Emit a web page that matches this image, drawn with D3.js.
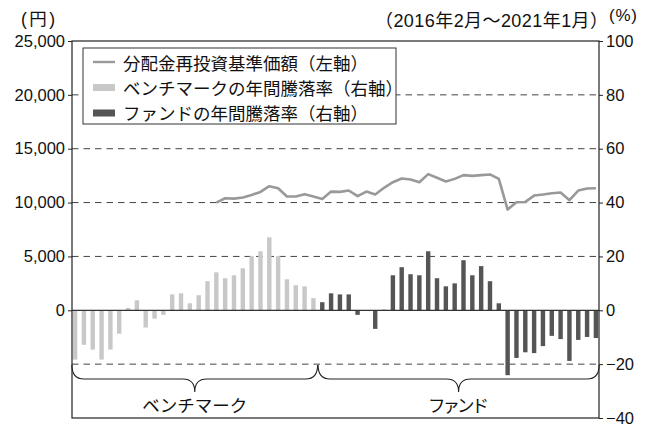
<!DOCTYPE html>
<html><head><meta charset="utf-8">
<script src="https://cdn.jsdelivr.net/npm/d3@7"></script>
<style>
html,body{margin:0;padding:0;background:#fff;}
svg text{font-family:"Liberation Sans","Noto Sans CJK JP",sans-serif;fill:#111;}
</style></head>
<body>
<svg id="chart" width="651" height="427"></svg>
<script>
// ---- data ----
const startYear = 2016, startMonth = 2, monthCount = 60;
const months = [];
for (let i = 0; i < monthCount; i++) {
  const m = startMonth - 1 + i;
  months.push((startYear + Math.floor(m / 12)) + "-" + String(m % 12 + 1).padStart(2, "0"));
}
// benchmark annual return (%), 2016-02 .. 2018-05
const benchmarkReturns = [-18.3, -12.8, -14.6, -18.3, -14.6, -8.7, 0.9, 3.7, -6.4, -3.1, -1.7, 5.9,
  6.3, 2.6, 5.6, 10.8, 14.1, 11.9, 13.0, 15.6, 20.1, 21.9, 27.1, 20.1, 11.5, 9.3, 8.9, 4.5];
// fund annual return (%), 2018-06 .. 2021-01
const fundReturns = [3.0, 6.3, 5.9, 5.9, -1.7, 0, -6.9, 0.2, 13.0, 16.0, 13.4, 13.0,
  21.9, 11.9, 8.9, 10.0, 18.6, 13.0, 16.4, 10.8, 2.6, -24.1, -17.7, -15.6,
  -15.9, -13.3, -9.5, -10.7, -18.8, -11.0, -9.9, -10.3];
// NAV with dividends reinvested (yen), 2017-06 .. 2021-01
const navValues = [10000, 10400, 10370, 10470, 10710, 10990, 11520, 11330, 10560, 10560, 10780, 10560,
  10340, 11020, 10990, 11120, 10590, 11020, 10750, 11370, 11890, 12240, 12140, 11890,
  12640, 12300, 11960, 12200, 12550, 12480, 12550, 12610, 12200, 9350, 10030, 10060,
  10650, 10750, 10870, 10930, 10220, 11120, 11300, 11330];
const leftTicks = [0, 5000, 10000, 15000, 20000, 25000];
const rightTicks = [-40, -20, 0, 20, 40, 60, 80, 100];
const legendLabels = ["分配金再投資基準価額（左軸）", "ベンチマークの年間騰落率（右軸）", "ファンドの年間騰落率（右軸）"];
const groupLabels = ["ベンチマーク", "ファンド"];
const titleText = "（2016年2月～2021年1月）";

// ---- layout ----
const L = 72, R = 599, T = 41, B = 418;
const svg = d3.select("#chart");
const x = d3.scaleBand().domain(months).range([L, R]).paddingInner(0.5).paddingOuter(0.1);
const yL = d3.scaleLinear().domain([-10000, 25000]).range([B, T]);
const yR = d3.scaleLinear().domain([-40, 100]).range([B, T]);

const bmStart = 0, fundStart = benchmarkReturns.length, navStart = monthCount - navValues.length;
const bars = benchmarkReturns.map((v, i) => ({m: months[bmStart + i], v, c: "#c8c8c8"}))
  .concat(fundReturns.map((v, i) => ({m: months[fundStart + i], v, c: "#555555"})));

// gridlines
svg.append("g").selectAll("line").data(rightTicks.filter(t => t !== -40 && t !== 100 && t !== 0))
  .join("line").attr("x1", L).attr("x2", R).attr("y1", d => yR(d)).attr("y2", d => yR(d))
  .attr("stroke", "#444").attr("stroke-width", 1).attr("stroke-dasharray", "6.5,5");

// bars
svg.append("g").selectAll("rect").data(bars).join("rect")
  .attr("x", d => x(d.m)).attr("width", x.bandwidth())
  .attr("y", d => yR(Math.max(0, d.v))).attr("height", d => Math.abs(yR(d.v) - yR(0)))
  .attr("fill", d => d.c);

// zero line
svg.append("line").attr("x1", L).attr("x2", R).attr("y1", yR(0)).attr("y2", yR(0))
  .attr("stroke", "#333").attr("stroke-width", 1.3);

// nav line
const line = d3.line().x((d, i) => x(months[navStart + i]) + x.bandwidth() / 2).y(d => yL(d));
svg.append("path").datum(navValues).attr("d", line).attr("fill", "none")
  .attr("stroke", "#999").attr("stroke-width", 2.6).attr("stroke-linejoin", "round");

// frame
svg.append("rect").attr("x", L).attr("y", T).attr("width", R - L).attr("height", B - T)
  .attr("fill", "none").attr("stroke", "#222").attr("stroke-width", 1.2);

// axes
const axL = d3.axisLeft(yL).tickValues(leftTicks).tickSize(4).tickPadding(3).tickFormat(d3.format(","));
const gL = svg.append("g").attr("transform", `translate(${L},0)`).call(axL);
const axR = d3.axisRight(yR).tickValues(rightTicks).tickSize(4).tickPadding(3)
  .tickFormat(d => d < 0 ? "−" + Math.abs(d) : d);
const gR = svg.append("g").attr("transform", `translate(${R},0)`).call(axR);
[gL, gR].forEach(g => {
  g.select(".domain").remove();
  g.selectAll(".tick line").attr("stroke", "#222");
  g.selectAll("text").style("font-size", "16.5px").attr("fill", "#111");
});

// unit labels and title
svg.append("text").attr("x", 21).attr("y", 25).text("(円)").style("font-size", "17.5px")
  .attr("textLength", 34).attr("lengthAdjust", "spacing");
svg.append("text").attr("x", 609).attr("y", 21).text("(%)").style("font-size", "17px")
  .attr("textLength", 28).attr("lengthAdjust", "spacing");
svg.append("text").attr("x", 375).attr("y", 27).text(titleText).style("font-size", "18px")
  .attr("textLength", 233).attr("lengthAdjust", "spacing");

// legend
const lg = svg.append("g");
lg.append("rect").attr("x", 83).attr("y", 48).attr("width", 313).attr("height", 76)
  .attr("fill", "#fff").attr("stroke", "#333").attr("stroke-width", 1);
const rowsY = [63, 88, 113];
lg.append("line").attr("x1", 93).attr("x2", 115).attr("y1", rowsY[0] - 1).attr("y2", rowsY[0] - 1)
  .attr("stroke", "#999").attr("stroke-width", 2.4);
lg.append("rect").attr("x", 93).attr("y", rowsY[1] - 4).attr("width", 22).attr("height", 7).attr("fill", "#c8c8c8");
lg.append("rect").attr("x", 93).attr("y", rowsY[2] - 3.5).attr("width", 22).attr("height", 7).attr("fill", "#555");
lg.selectAll("text.lg").data(legendLabels).join("text").attr("class", "lg")
  .attr("x", 123).attr("y", (d, i) => rowsY[i]).attr("dy", "0.38em")
  .text(d => d).style("font-size", "17.5px");

// braces
const groups = [
  {label: groupLabels[0], w: 105, a: x(months[bmStart]) - 1, b: x(months[fundStart - 1]) + x.bandwidth() + 2},
  {label: groupLabels[1], w: 61, a: x(months[fundStart]) - 2, b: x(months[monthCount - 1]) + x.bandwidth() + 1}
];
const yTop = 365, yMid = 379, yTip = 392, r = 12;
groups.forEach(g => {
  const m = (g.a + g.b) / 2;
  const p = d3.path();
  p.moveTo(g.a, yTop);
  p.quadraticCurveTo(g.a, yMid, g.a + r, yMid);
  p.lineTo(m - r, yMid);
  p.quadraticCurveTo(m, yMid, m, yTip);
  p.quadraticCurveTo(m, yMid, m + r, yMid);
  p.lineTo(g.b - r, yMid);
  p.quadraticCurveTo(g.b, yMid, g.b, yTop);
  svg.append("path").attr("d", p.toString()).attr("fill", "none").attr("stroke", "#222").attr("stroke-width", 1.1);
  svg.append("text").attr("x", m - g.w / 2).attr("y", 406).attr("dy", "0.36em")
    .attr("textLength", g.w).attr("lengthAdjust", "spacing")
    .text(g.label).style("font-size", "17.5px");
});
</script>
</body></html>
